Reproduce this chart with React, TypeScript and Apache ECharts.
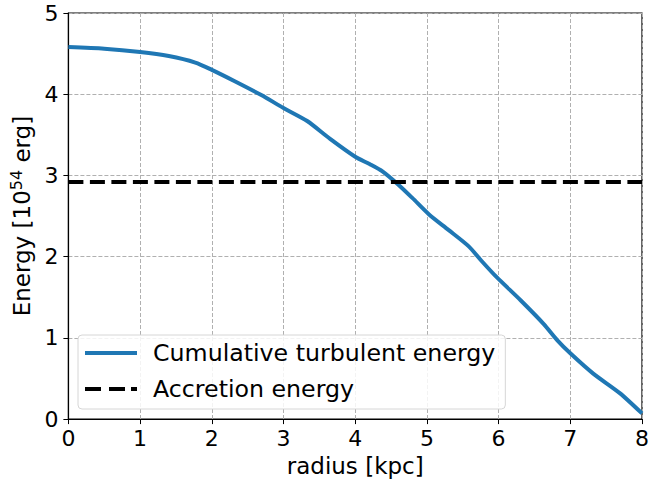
import React, { useEffect, useRef } from "react";
import * as echarts from "echarts";

const radius = [0, 0.5, 1, 1.4, 1.77, 2, 2.32, 2.69, 3, 3.33, 3.65, 4, 4.2, 4.38, 4.61, 4.8, 5.03, 5.3, 5.58, 5.76, 5.97, 6.31, 6.63, 6.82, 7, 7.32, 7.69, 8];
const turbulentEnergy = [4.58, 4.56, 4.52, 4.47, 4.39, 4.3, 4.16, 3.99, 3.83, 3.67, 3.45, 3.23, 3.14, 3.05, 2.88, 2.72, 2.52, 2.33, 2.13, 1.95, 1.75, 1.46, 1.17, 0.97, 0.81, 0.56, 0.32, 0.07];
const accretionX = [0, 8];
const accretionEnergy = 2.92;
const xTicks = [0, 1, 2, 3, 4, 5, 6, 7, 8];
const yTicks = [0, 1, 2, 3, 4, 5];

const FONT = "DejaVu Sans";

export default function App() {
  const ref = useRef<HTMLDivElement>(null);
  useEffect(() => {
    if (!ref.current) return;
    const chart = echarts.init(ref.current, null, { renderer: "svg" });
    const gridLine = { show: true, lineStyle: { color: "#b0b0b0", width: 1, type: [4, 2] as any } };
    chart.setOption({
      animation: false,
      backgroundColor: "#fff",
      textStyle: { fontFamily: FONT },
      grid: { left: 65, top: 13, width: 581, height: 410, show: true, borderColor: "#000", borderWidth: 1.2, backgroundColor: "transparent" },
      xAxis: {
        type: "value",
        min: xTicks[0],
        max: xTicks[xTicks.length - 1],
        interval: 1,
        name: "radius [kpc]",
        nameLocation: "middle",
        nameGap: 33,
        nameTextStyle: { fontSize: 23, color: "#000", fontFamily: FONT },
        axisLine: { show: true, lineStyle: { color: "#000", width: 1.2 } },
        axisTick: { show: true, length: 5, lineStyle: { color: "#000" } },
        axisLabel: { fontSize: 22, color: "#000", margin: 8, fontFamily: FONT },
        splitLine: gridLine,
      },
      yAxis: {
        type: "value",
        min: yTicks[0],
        max: yTicks[yTicks.length - 1],
        interval: 1,
        name: "{a|Energy [10}{s|54}{a| erg]}",
        nameLocation: "middle",
        nameGap: 26,
        nameRotate: 90,
        nameTextStyle: {
          color: "#000",
          rich: {
            a: { fontSize: 23, fontFamily: FONT, color: "#000" },
            s: { fontSize: 16, fontFamily: FONT, color: "#000", verticalAlign: "top", padding: [0, 0, 12, 0] },
          },
        },
        axisLine: { show: true, lineStyle: { color: "#000", width: 1.2 } },
        axisTick: { show: true, length: 5, lineStyle: { color: "#000" } },
        axisLabel: { fontSize: 22, color: "#000", margin: 10, fontFamily: FONT },
        splitLine: gridLine,
      },
      legend: {
        left: 78,
        top: 335,
        orient: "vertical",
        padding: [6, 10, 8, 7],
        itemGap: 12,
        itemWidth: 52,
        itemHeight: 4,
        backgroundColor: "rgba(255,255,255,0.85)",
        borderColor: "#d6d6d6",
        borderWidth: 1,
        borderRadius: 4,
        textStyle: { fontSize: 23.7, color: "#000", fontFamily: FONT, padding: [0, 0, 0, 11] },
        data: [
          { name: "Cumulative turbulent energy", icon: "path://M0,0H52V4H0Z" },
          { name: "Accretion energy", icon: "path://M0,0H16V4H0Z M24,0H40V4H24Z M46,0H52V4H46Z" },
        ],
      },
      series: [
        {
          name: "Cumulative turbulent energy",
          type: "line",
          smooth: 0.25,
          symbol: "none",
          data: radius.map((r, i) => [r, turbulentEnergy[i]]),
          lineStyle: { color: "#1f77b4", width: 4 },
          itemStyle: { color: "#1f77b4" },
          z: 3,
        },
        {
          name: "Accretion energy",
          type: "line",
          symbol: "none",
          data: accretionX.map((x) => [x, accretionEnergy]),
          lineStyle: { color: "#000", width: 4, type: [15, 6.5] as any },
          itemStyle: { color: "#000" },
          z: 4,
        },
      ],
    });
    return () => chart.dispose();
  }, []);
  return <div ref={ref} style={{ position: "fixed", left: 0, top: 0, width: 652, height: 482 }} />;
}
